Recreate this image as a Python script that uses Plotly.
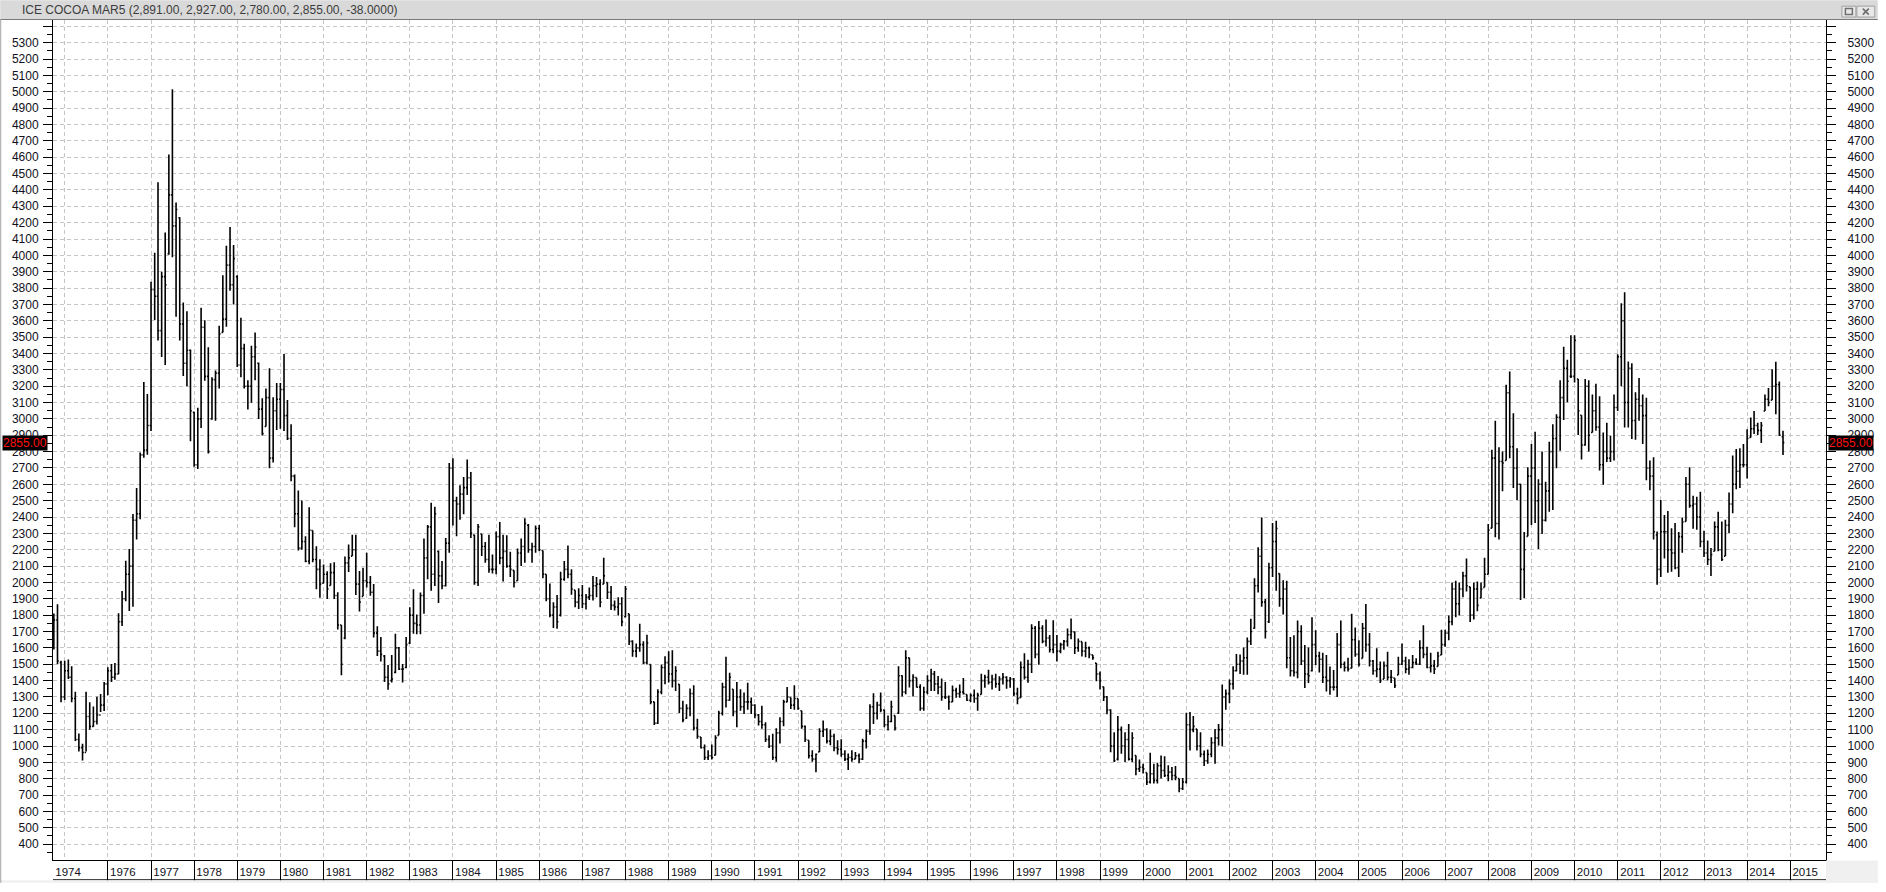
import pandas as pd
import plotly.graph_objects as go

# ---------------- data (monthly OHLC, Oct 1974 .. Nov 2014) ----------------
first_month = "1974-10-01"

open_ = [
    1600, 1770, 1510,  # 1974 Oct-Dec
    1300, 1460, 1420, 1290, 1040, 990, 960, 1180, 1120, 1150, 1190, 1250,  # 1975
    1380, 1460, 1420, 1440, 1760, 1900, 2050, 2100, 2380, 2420, 2780, 2810,  # 1976
    2960, 3790, 3750, 3540, 3870, 4010, 4370, 4180, 4230, 3580, 3340, 3420,  # 1977
    3040, 2720, 3000, 3560, 3260, 3000, 3240, 3280, 3529, 3610, 3940, 3820,  # 1978
    3870, 3330, 3430, 3200, 3200, 3380, 3340, 3060, 2954, 3130, 2760, 3050,  # 1979
    3120, 3180, 3020, 2880, 2650, 2420, 2210, 2250, 2130, 2318, 2140, 2080,  # 1980
    1995, 2050, 1981, 2060, 1920, 1740, 1660, 2120, 2161, 2200, 1990, 1915,  # 1981
    2010, 2000, 1940, 1690, 1580, 1550, 1420, 1400, 1450, 1600, 1470, 1480,  # 1982
    1630, 1800, 1750, 1740, 1920, 2150, 2340, 2050, 2190, 2040, 1980, 2240,  # 1983
    2700, 2500, 2480, 2540, 2580, 2640, 2290, 2000, 2296, 2220, 2140, 2080,  # 1984
    2080, 2280, 2150, 2190, 2100, 2074, 2010, 2180, 2220, 2350, 2200, 2220,  # 1985
    2330, 2195, 2050, 1900, 1800, 1850, 1800, 2020, 2080, 2050, 1953, 1880,  # 1986
    1920, 1870, 1910, 1920, 1980, 1990, 1990, 2000, 1940, 1860, 1850, 1870,  # 1987
    1790, 1808, 1640, 1580, 1600, 1620, 1510, 1498, 1270, 1140, 1330, 1480,  # 1988
    1510, 1440, 1400, 1377, 1230, 1170, 1230, 1320, 1110, 1055, 990, 930,  # 1989
    940, 944, 1065, 1200, 1360, 1280, 1347, 1210, 1300, 1240, 1270, 1270,  # 1990
    1250, 1190, 1150, 1130, 1040, 1000, 930, 1080, 1150, 1270, 1297, 1250,  # 1991
    1290, 1216, 1120, 1035, 940, 920, 964, 1090, 1100, 1030, 1060, 990,  # 1992
    980, 950, 920, 930, 920, 940, 920, 1030, 1090, 1240, 1200, 1250,  # 1993
    1220, 1130, 1150, 1186, 1200, 1430, 1330, 1539, 1400, 1418, 1360, 1230,  # 1994
    1330, 1400, 1440, 1380, 1360, 1300, 1300, 1270, 1340, 1320, 1330, 1315,  # 1995
    1280, 1310, 1290, 1315, 1400, 1420, 1390, 1410, 1380, 1410, 1420, 1400,  # 1996
    1410, 1320, 1295, 1480, 1420, 1500, 1720, 1560, 1720, 1640, 1660, 1590,  # 1997
    1620, 1580, 1620, 1640, 1680, 1698, 1600, 1638, 1580, 1600, 1557, 1507,  # 1998
    1440, 1362, 1300, 1220, 1000, 920, 1100, 1000, 1040, 920, 942, 860,  # 1999
    870, 837, 780, 830, 790, 880, 850, 820, 840, 820, 801, 740,  # 2000
    780, 1130, 1100, 1104, 1000, 950, 910, 950, 1020, 1050, 1100, 1300,  # 2001
    1320, 1380, 1460, 1500, 1520, 1540, 1640, 1720, 1980, 2160, 1880, 1760,  # 2002
    2090, 2250, 2054, 1900, 1960, 1540, 1460, 1450, 1700, 1520, 1440, 1460,  # 2003
    1620, 1550, 1530, 1420, 1400, 1360, 1360, 1620, 1500, 1480, 1476, 1650,  # 2004
    1560, 1536, 1720, 1620, 1520, 1460, 1470, 1409, 1490, 1420, 1415, 1435,  # 2005
    1500, 1520, 1470, 1480, 1510, 1500, 1600, 1560, 1480, 1490, 1486, 1556,  # 2006
    1620, 1690, 1760, 1960, 1870, 1960, 2040, 1973, 1800, 1960, 1905, 1970,  # 2007
    2050, 2332, 2760, 2360, 2740, 2746, 3160, 2830, 2700, 2600, 2080, 2282,  # 2008
    2650, 2700, 2500, 2600, 2380, 2560, 2800, 2880, 3010, 3130, 3310, 3260,  # 2009
    3260, 3244, 3022, 2840, 3200, 2917, 3050, 2950, 2720, 2800, 2760, 2800,  # 2010
    3070, 3380, 3600, 3100, 3310, 2990, 3120, 3080, 3020, 2700, 2650, 2290,  # 2011
    2080, 2310, 2310, 2200, 2180, 2090, 2280, 2373, 2600, 2470, 2480, 2400,  # 2012
    2250, 2180, 2140, 2191, 2340, 2200, 2161, 2350, 2480, 2600, 2680, 2720,  # 2013
    2720, 2887, 2940, 2960, 2930, 3048, 3120, 3115, 3200, 3210, 2891,  # 2014
]

high = [
    1810, 1866, 1521,
    1521, 1529, 1488, 1332, 1077, 1014, 1332, 1268, 1241, 1301, 1318, 1392,
    1482, 1501, 1507, 1811, 1948, 2132, 2205, 2419, 2578, 2795, 3225, 3153,
    3838, 4016, 4447, 3899, 4140, 4616, 5016, 4323, 4233, 3712, 3658, 3425,
    3044, 3068, 3679, 3603, 3438, 3255, 3296, 3570, 3879, 4058, 4173, 4063,
    3879, 3619, 3460, 3236, 3447, 3529, 3345, 3126, 3186, 3310, 3132, 3219,
    3219, 3397, 3115, 2967, 2660, 2562, 2501, 2282, 2460, 2318, 2222, 2142,
    2110, 2068, 2118, 2123, 1940, 1740, 2159, 2232, 2292, 2292, 2070, 2090,
    2181, 2040, 1990, 1732, 1667, 1556, 1496, 1556, 1687, 1606, 1502, 1667,
    1848, 1959, 1804, 1939, 2268, 2352, 2488, 2463, 2195, 2131, 2272, 2731,
    2760, 2524, 2594, 2645, 2752, 2675, 2292, 2357, 2296, 2248, 2292, 2171,
    2312, 2369, 2292, 2288, 2187, 2074, 2207, 2268, 2393, 2357, 2242, 2348,
    2352, 2195, 2050, 1994, 1879, 1923, 2066, 2131, 2226, 2080, 1953, 1965,
    1984, 1929, 1969, 2040, 2034, 2020, 2151, 2000, 1979, 1889, 1909, 1909,
    1979, 1808, 1647, 1627, 1748, 1640, 1680, 1498, 1271, 1347, 1498, 1549,
    1579, 1585, 1488, 1377, 1277, 1256, 1351, 1371, 1166, 1055, 1009, 974,
    1009, 1065, 1216, 1387, 1545, 1448, 1347, 1392, 1347, 1327, 1387, 1297,
    1256, 1196, 1246, 1146, 1065, 1075, 1109, 1176, 1283, 1361, 1297, 1371,
    1291, 1216, 1125, 1035, 974, 954, 1109, 1156, 1109, 1101, 1075, 1035,
    1041, 974, 954, 974, 964, 954, 1045, 1101, 1256, 1323, 1271, 1327,
    1222, 1186, 1277, 1186, 1488, 1432, 1585, 1539, 1438, 1418, 1377, 1363,
    1432, 1472, 1458, 1428, 1412, 1392, 1309, 1370, 1356, 1376, 1416, 1315,
    1321, 1346, 1325, 1442, 1436, 1467, 1436, 1442, 1426, 1446, 1426, 1422,
    1416, 1356, 1517, 1567, 1527, 1745, 1733, 1765, 1739, 1773, 1678, 1769,
    1678, 1632, 1648, 1719, 1779, 1698, 1658, 1638, 1638, 1608, 1557, 1507,
    1456, 1362, 1305, 1225, 1084, 1184, 1120, 1084, 1134, 1084, 942, 918,
    892, 837, 958, 892, 898, 942, 938, 882, 872, 878, 801, 805,
    1204, 1208, 1184, 1104, 1084, 973, 979, 1053, 1104, 1134, 1376, 1346,
    1406, 1487, 1563, 1560, 1603, 1663, 1778, 2026, 2215, 2397, 1899, 2121,
    2363, 2377, 2054, 2014, 2010, 1667, 1677, 1768, 1738, 1617, 1603, 1788,
    1707, 1576, 1570, 1556, 1486, 1465, 1691, 1768, 1516, 1540, 1808, 1724,
    1647, 1752, 1869, 1691, 1526, 1597, 1516, 1516, 1576, 1465, 1415, 1546,
    1627, 1546, 1530, 1556, 1536, 1647, 1738, 1607, 1570, 1526, 1576, 1711,
    1711, 1798, 2000, 2010, 2000, 2066, 2147, 1973, 2000, 2006, 2000, 2151,
    2357, 2812, 2988, 2826, 2800, 3209, 3290, 3034, 2820, 2604, 2308, 2705,
    2846, 2921, 2631, 2800, 2615, 2861, 2967, 3028, 3236, 3441, 3361, 3512,
    3512, 3244, 3022, 3244, 3236, 3149, 3215, 3139, 2917, 2977, 2897, 3149,
    3395, 3707, 3774, 3351, 3341, 3163, 3250, 3149, 3129, 2746, 2766, 2312,
    2504, 2413, 2437, 2332, 2363, 2308, 2397, 2645, 2705, 2530, 2524, 2554,
    2316, 2256, 2211, 2373, 2433, 2373, 2383, 2550, 2776, 2816, 2820, 2846,
    2937, 3008, 3048, 2977, 2981, 3149, 3189, 3304, 3350, 3229, 2927,
]

low = [
    1590, 1500, 1268,
    1282, 1410, 1268, 1030, 967, 912, 967, 1099, 1118, 1132, 1208, 1214,
    1310, 1392, 1405, 1438, 1734, 1885, 1825, 1852, 2263, 2386, 2762, 2781,
    2926, 3605, 3479, 3378, 3329, 4003, 3989, 3625, 3479, 3263, 3200, 2863,
    2707, 2693, 2945, 3233, 2789, 2995, 2989, 3186, 3529, 3564, 3784, 3699,
    3318, 3255, 3186, 3058, 3099, 3236, 3000, 2899, 2954, 2699, 2734, 2932,
    2940, 2926, 2871, 2619, 2337, 2195, 2200, 2123, 2112, 2123, 1959, 1907,
    1995, 1899, 1981, 1899, 1712, 1433, 1652, 2064, 2161, 1923, 1822, 1915,
    1969, 1919, 1663, 1550, 1516, 1391, 1344, 1389, 1445, 1465, 1389, 1475,
    1623, 1687, 1683, 1683, 1808, 2020, 1949, 1979, 1875, 1959, 1975, 2181,
    2348, 2282, 2383, 2417, 2534, 2272, 1986, 1979, 2161, 2121, 2060, 2054,
    2050, 2111, 2006, 2090, 2034, 1969, 2010, 2101, 2121, 2181, 2121, 2181,
    2191, 2026, 1885, 1788, 1721, 1717, 1792, 2010, 2026, 1925, 1848, 1838,
    1844, 1834, 1893, 1889, 1909, 1848, 1990, 1899, 1832, 1828, 1798, 1732,
    1788, 1617, 1546, 1542, 1576, 1502, 1498, 1256, 1129, 1135, 1317, 1377,
    1388, 1357, 1337, 1202, 1146, 1166, 1182, 1095, 1045, 984, 914, 914,
    918, 944, 1065, 1186, 1236, 1277, 1182, 1115, 1216, 1196, 1222, 1196,
    1170, 1125, 1105, 1025, 988, 914, 904, 1015, 1121, 1267, 1226, 1222,
    1222, 1105, 1025, 924, 904, 839, 964, 1055, 1015, 1005, 968, 948,
    934, 908, 853, 904, 920, 894, 914, 984, 1069, 1135, 1162, 1206,
    1115, 1095, 1146, 1095, 1196, 1303, 1317, 1357, 1303, 1357, 1216, 1216,
    1317, 1337, 1337, 1317, 1277, 1287, 1221, 1269, 1295, 1295, 1315, 1275,
    1269, 1265, 1215, 1315, 1356, 1376, 1346, 1356, 1336, 1376, 1350, 1356,
    1305, 1255, 1295, 1406, 1386, 1446, 1537, 1497, 1628, 1608, 1571, 1567,
    1517, 1567, 1588, 1608, 1652, 1563, 1577, 1547, 1543, 1537, 1527, 1396,
    1346, 1275, 1194, 962, 902, 912, 952, 902, 912, 902, 821, 841,
    832, 761, 771, 771, 771, 801, 811, 785, 791, 791, 717, 731,
    771, 973, 1084, 973, 932, 878, 892, 932, 892, 1003, 999, 1221,
    1261, 1346, 1456, 1440, 1435, 1435, 1617, 1717, 1939, 1852, 1657, 1752,
    2034, 1949, 1852, 1804, 1476, 1425, 1425, 1415, 1496, 1355, 1385, 1455,
    1496, 1449, 1385, 1334, 1314, 1340, 1300, 1476, 1455, 1455, 1476, 1546,
    1486, 1536, 1576, 1486, 1435, 1421, 1385, 1409, 1401, 1385, 1355, 1435,
    1496, 1445, 1435, 1476, 1496, 1496, 1536, 1476, 1449, 1441, 1486, 1556,
    1607, 1647, 1738, 1788, 1798, 1909, 1945, 1758, 1774, 1824, 1905, 1970,
    2050, 2332, 2276, 2262, 2558, 2746, 2760, 2578, 2504, 1893, 1905, 2282,
    2352, 2363, 2205, 2296, 2373, 2433, 2443, 2699, 2806, 2994, 3102, 3250,
    3223, 2901, 2752, 2836, 2800, 2917, 2927, 2685, 2598, 2736, 2736, 2746,
    3048, 3199, 2947, 2947, 2877, 2873, 2988, 2846, 2625, 2564, 2262, 1986,
    2034, 2147, 2060, 2066, 2080, 2034, 2181, 2373, 2457, 2328, 2322, 2215,
    2155, 2107, 2040, 2191, 2191, 2131, 2161, 2302, 2423, 2570, 2578, 2705,
    2635, 2887, 2907, 2901, 2852, 3048, 3078, 3115, 3028, 2897, 2780,
]

close = [
    1770, 1520, 1300,
    1460, 1420, 1290, 1040, 990, 960, 1180, 1120, 1150, 1190, 1250, 1380,
    1460, 1420, 1440, 1760, 1900, 2050, 2100, 2380, 2420, 2780, 2810, 2960,
    3790, 3750, 3540, 3870, 3820, 4370, 4180, 4280, 3580, 3340, 3420, 3050,
    2720, 3000, 3560, 3260, 2800, 3240, 3280, 3520, 3610, 3940, 3820, 3980,
    3330, 3430, 3200, 3200, 3380, 3440, 3060, 2910, 3130, 2760, 3050, 3120,
    3180, 3020, 2880, 2650, 2420, 2210, 2250, 2130, 2320, 2140, 2080, 1990,
    2050, 1960, 2060, 1920, 1740, 1500, 2120, 2150, 2200, 1990, 1880, 2010,
    2000, 1940, 1690, 1580, 1560, 1420, 1380, 1410, 1600, 1470, 1470, 1620,
    1800, 1750, 1740, 1920, 2150, 2340, 2050, 2420, 2040, 1980, 2240, 2700,
    2500, 2480, 2540, 2580, 2640, 2300, 2000, 2340, 2220, 2140, 2080, 2080,
    2280, 2150, 2190, 2100, 2080, 2000, 2180, 2220, 2360, 2200, 2220, 2330,
    2200, 2050, 1900, 1800, 1850, 1760, 2020, 2080, 2050, 1960, 1880, 1920,
    1870, 1910, 1920, 1980, 1990, 1880, 2040, 1940, 1860, 1850, 1870, 1760,
    1960, 1640, 1580, 1600, 1620, 1510, 1630, 1270, 1140, 1330, 1480, 1510,
    1440, 1400, 1460, 1230, 1160, 1230, 1320, 1110, 1060, 990, 930, 940,
    930, 1050, 1200, 1360, 1280, 1420, 1210, 1300, 1240, 1270, 1270, 1250,
    1190, 1150, 1130, 1040, 1000, 930, 1080, 1150, 1270, 1300, 1250, 1290,
    1230, 1120, 1040, 940, 920, 950, 1090, 1100, 1030, 1060, 990, 980,
    950, 920, 930, 920, 940, 920, 1030, 1090, 1240, 1200, 1250, 1220,
    1130, 1150, 1240, 1110, 1430, 1330, 1539, 1400, 1420, 1360, 1230, 1330,
    1400, 1440, 1380, 1360, 1300, 1300, 1270, 1340, 1320, 1330, 1320, 1280,
    1310, 1290, 1310, 1400, 1420, 1390, 1410, 1380, 1410, 1420, 1400, 1410,
    1320, 1290, 1480, 1420, 1500, 1720, 1560, 1720, 1640, 1660, 1590, 1620,
    1580, 1620, 1640, 1680, 1700, 1600, 1640, 1580, 1600, 1560, 1540, 1440,
    1400, 1300, 1220, 1000, 910, 1100, 1000, 1040, 920, 1050, 860, 870,
    860, 780, 830, 790, 880, 850, 820, 840, 820, 810, 740, 780,
    1130, 1100, 1120, 1000, 950, 910, 950, 1020, 1050, 1100, 1300, 1320,
    1380, 1460, 1500, 1520, 1540, 1640, 1700, 1980, 2160, 1880, 1700, 2090,
    2250, 2330, 1900, 1960, 1540, 1460, 1450, 1700, 1520, 1440, 1430, 1620,
    1550, 1530, 1420, 1400, 1360, 1360, 1620, 1500, 1480, 1470, 1650, 1560,
    1500, 1720, 1620, 1520, 1460, 1470, 1400, 1490, 1420, 1420, 1370, 1500,
    1520, 1470, 1480, 1510, 1500, 1600, 1560, 1480, 1490, 1470, 1550, 1620,
    1690, 1760, 1960, 1870, 1960, 2040, 1980, 1800, 1960, 1860, 1960, 2050,
    2320, 2760, 2360, 2740, 2730, 3160, 2830, 2700, 2600, 2080, 2200, 2650,
    2700, 2500, 2600, 2380, 2560, 2800, 2880, 3010, 3130, 3310, 3230, 3260,
    3480, 3050, 2840, 3200, 2900, 3050, 2950, 2720, 2800, 2760, 2800, 3070,
    3380, 3600, 3100, 3310, 2990, 3120, 3080, 3020, 2700, 2650, 2310, 2080,
    2310, 2310, 2200, 2180, 2090, 2280, 2370, 2600, 2470, 2480, 2400, 2250,
    2180, 2140, 2170, 2340, 2200, 2140, 2350, 2480, 2600, 2680, 2720, 2720,
    2880, 2940, 2960, 2930, 2960, 3120, 3100, 3200, 3210, 2900, 2855,
]

title_text = "ICE COCOA MAR5 (2,891.00, 2,927.00, 2,780.00, 2,855.00, -38.0000)"
grid_years = list(range(1975, 2016))        # dashed vertical grid at each year start
label_years = list(range(1976, 2016))       # labelled year dividers
first_label = "1974"
y_ticks = list(range(400, 5500, 100))
x_range = ["1974-09-24", "2015-10-31"]
y_range = [303, 5439]

# ---------------- geometry helpers (layout only) ----------------
W, H = 1886, 892
ML, MR, MT, MB = 53, 52, 20, 23
PW, PH = W - ML - MR, H - MT - MB


def px_x(px):
    return (px - ML) / PW


def px_y(py):
    return (H - MB - py) / PH


dates = pd.date_range(first_month, periods=len(close), freq="MS")

fig = go.Figure()
fig.add_trace(go.Ohlc(
    x=dates, open=open_, high=high, low=low, close=close,
    increasing=dict(line=dict(color="black", width=1.6)),
    decreasing=dict(line=dict(color="black", width=1.6)),
    tickwidth=0.4, hoverinfo="skip", showlegend=False,
))
# helper traces so the overlay axes get drawn
fig.add_trace(go.Scatter(x=[dates[0]], y=[close[0]], xaxis="x2", yaxis="y",
                         mode="markers", marker=dict(opacity=0), hoverinfo="skip", showlegend=False))
fig.add_trace(go.Scatter(x=[dates[0]], y=[close[0]], xaxis="x3", yaxis="y2",
                         mode="markers", marker=dict(opacity=0), hoverinfo="skip", showlegend=False))

axis_font = dict(family="Liberation Sans, Arial, sans-serif", size=12, color="#101020")
grid_dash = "4px,3px"
grid_col = "#c6c6c6"

y_text = [str(v) if v != 5400 else "" for v in y_ticks]
minor_vals = [v + 50 for v in range(300, 5400, 100)]

common_y = dict(
    range=y_range, tickmode="array", tickvals=y_ticks, ticktext=y_text,
    ticks="outside", ticklen=9, tickwidth=1, tickcolor="black",
    showline=True, linecolor="black", linewidth=1,
    minor=dict(tickmode="array", tickvals=minor_vals, ticks="outside", ticklen=5,
               tickwidth=1, tickcolor="black", showgrid=False),
    tickfont=axis_font, zeroline=False, fixedrange=True,
)

label_vals = [pd.Timestamp(x_range[0]) + pd.Timedelta(days=1)] + [pd.Timestamp(f"{y}-01-01") for y in label_years]
label_text = [first_label] + [str(y) for y in label_years]

fig.update_layout(
    width=W, height=H,
    margin=dict(l=ML, r=MR, t=MT, b=MB, pad=0),
    paper_bgcolor="white", plot_bgcolor="white",
    showlegend=False,
    xaxis=dict(
        type="date", range=x_range, tickmode="array",
        tickvals=[f"{y}-01-01" for y in grid_years], showticklabels=False, ticks="",
        showgrid=True, gridcolor=grid_col, griddash=grid_dash, gridwidth=1,
        showline=True, linecolor="black", linewidth=1, mirror=False,
        zeroline=False, fixedrange=True, rangeslider=dict(visible=False),
    ),
    xaxis2=dict(
        type="date", overlaying="x", matches="x", side="bottom", anchor="y",
        tickmode="array", tickvals=[f"{y}-01-01" for y in label_years],
        showticklabels=False, ticks="outside", ticklen=20, tickwidth=1, tickcolor="black",
        showgrid=False, showline=False, zeroline=False, fixedrange=True,
    ),
    xaxis3=dict(
        type="date", overlaying="x", matches="x", side="bottom", anchor="y2",
        tickmode="array", tickvals=label_vals, ticktext=label_text,
        ticks="", ticklabelshift=15, ticklabelstandoff=3,
        tickfont=dict(family="Liberation Sans, Arial, sans-serif", size=11.5, color="#101020"),
        showgrid=False, showline=False, zeroline=False, fixedrange=True,
    ),
    yaxis=dict(side="left", showgrid=True, gridcolor=grid_col, griddash=grid_dash,
               gridwidth=1, ticklabelstandoff=2, **common_y),
    yaxis2=dict(side="right", overlaying="y", matches="y", anchor="x", showgrid=False,
                ticklabelstandoff=9, **common_y),
)

shapes = []
# title bar
shapes.append(dict(type="rect", xref="paper", yref="paper", x0=px_x(0), x1=px_x(W),
                   y0=px_y(19), y1=px_y(0), fillcolor="#d9d9d9", line=dict(width=0), layer="above"))
shapes.append(dict(type="line", xref="paper", yref="paper", x0=px_x(0), x1=px_x(W),
                   y0=px_y(19.5), y1=px_y(19.5), line=dict(color="#7a7a7a", width=1), layer="above"))
# window buttons
for bx0, bx1 in [(1850, 1864), (1865, 1883)]:
    shapes.append(dict(type="rect", xref="paper", yref="paper", x0=px_x(bx0), x1=px_x(bx1),
                       y0=px_y(17), y1=px_y(6), fillcolor="#e8e8e8",
                       line=dict(color="#a0a0a0", width=1), layer="above"))
shapes.append(dict(type="rect", xref="paper", yref="paper", x0=px_x(1853.5), x1=px_x(1860.5),
                   y0=px_y(14.5), y1=px_y(8.5), fillcolor="rgba(0,0,0,0)",
                   line=dict(color="#707070", width=1.5), layer="above"))
shapes.append(dict(type="line", xref="paper", yref="paper", x0=px_x(1871), x1=px_x(1877),
                   y0=px_y(14.5), y1=px_y(8.5), line=dict(color="#707070", width=1.8), layer="above"))
shapes.append(dict(type="line", xref="paper", yref="paper", x0=px_x(1871), x1=px_x(1877),
                   y0=px_y(8.5), y1=px_y(14.5), line=dict(color="#707070", width=1.8), layer="above"))
# label strip bottom border and right gray filler
shapes.append(dict(type="line", xref="paper", yref="paper", x0=0, x1=1,
                   y0=px_y(889), y1=px_y(889), line=dict(color="black", width=1), layer="above"))
shapes.append(dict(type="rect", xref="paper", yref="paper", x0=1, x1=px_x(W),
                   y0=px_y(H), y1=px_y(869.5), fillcolor="#f0f0f0", line=dict(width=0), layer="above"))
shapes.append(dict(type="rect", xref="paper", yref="paper", x0=px_x(0), x1=px_x(W),
                   y0=px_y(H), y1=px_y(889.5), fillcolor="#f0f0f0", line=dict(width=0), layer="above"))
# left window edge
shapes.append(dict(type="line", xref="paper", yref="paper", x0=px_x(0.5), x1=px_x(0.5),
                   y0=px_y(H), y1=px_y(19), line=dict(color="#a0a0a0", width=1), layer="above"))
fig.update_layout(shapes=shapes)

last_txt = f"{close[-1]:.2f}"
ann = [
    dict(text=title_text, xref="paper", yref="paper", x=px_x(20), y=px_y(9.5),
         xanchor="left", yanchor="middle", showarrow=False,
         font=dict(family="Liberation Sans, Arial, sans-serif", size=12, color="#3c3c3c")),
]
for cx in (25, 1859):
    ann.append(dict(text=last_txt, xref="paper", yref="y", x=px_x(cx), y=close[-1],
                    xanchor="center", yanchor="middle", showarrow=False,
                    bgcolor="black", borderpad=0,
                    font=dict(family="Liberation Sans, Arial, sans-serif", size=12, color="#ff1010")))
fig.update_layout(annotations=ann)

fig.write_html("out.html", config={"displayModeBar": False},
               post_script="document.body.style.margin='0';document.body.style.overflow='hidden';")
